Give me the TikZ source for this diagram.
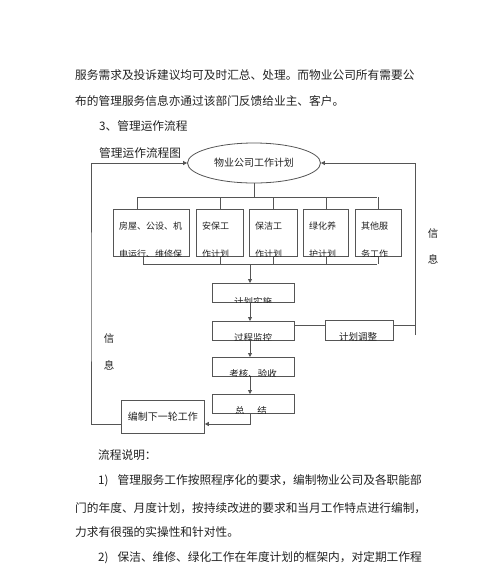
\documentclass[tikz,border=0pt]{standalone}
\usepackage{fontspec}
\setmainfont{Noto Sans CJK SC}
\usetikzlibrary{arrows.meta,shapes.geometric}
\definecolor{linec}{HTML}{555555}
\definecolor{txt}{HTML}{222222}
\begin{document}
\begin{tikzpicture}[x=1pt,y=-1pt,
  ln/.style={draw=linec, line width=0.8pt},
  arr/.style={ln, -{Triangle[length=4pt,width=4pt]}},
  bx/.style={draw=linec, line width=0.8pt, rectangle, inner sep=0pt, anchor=north west},
  body/.style={anchor=west, inner sep=0pt, font=\fontsize{11.7}{14}\selectfont, text=txt},
  small/.style={anchor=west, inner sep=0pt, font=\fontsize{9}{11}\selectfont, text=txt},
  mid/.style={inner sep=0pt, font=\fontsize{9.5}{11}\selectfont, text=txt},
]
\useasboundingbox[fill=white] (0,0) rectangle (500,566);

% body text
\node[body] (p1) at (75,75) {服务需求及投诉建议均可及时汇总、处理。而物业公司所有需要公};
\node[body] (p2) at (75,101) {布的管理服务信息亦通过该部门反馈给业主、客户。};
\node[body] (p3) at (99,126) {3、管理运作流程};
\node[body] (p4) at (99,153) {管理运作流程图};
\node[body] (q1) at (98,455) {流程说明：};
\node[body] (q2) at (98,481) {1)\hspace{9pt}管理服务工作按照程序化的要求，编制物业公司及各职能部};
\node[body] (q3) at (75,508) {门的年度、月度计划，按持续改进的要求和当月工作特点进行编制，};
\node[body] (q4) at (75,532) {力求有很强的实操性和针对性。};
\node[body] (q5) at (98,558) {2)\hspace{9pt}保洁、维修、绿化工作在年度计划的框架内，对定期工作程};

% ellipse
\node[draw=linec, line width=0.8pt, ellipse, minimum width=133pt, minimum height=40pt, inner sep=0pt,
      font=\fontsize{10}{12}\selectfont, text=txt] (el) at (254,163) {物业公司工作计划};

% top boxes
\node[bx, minimum width=76pt, minimum height=47pt] (b1) at (113,209) {};
\node[bx, minimum width=47pt, minimum height=47pt] (b2) at (196,209) {};
\node[bx, minimum width=48pt, minimum height=47pt] (b3) at (249,209) {};
\node[bx, minimum width=45pt, minimum height=47pt] (b4) at (303,209) {};
\node[bx, minimum width=46pt, minimum height=47pt] (b5) at (355,209) {};

\begin{scope}
\clip (b1.north west) rectangle (b1.south east);
\node[small] (b1a) at (119,226) {房屋、公设、机};
\node[small] (b1b) at (119,254.5) {电运行、维修保};
\end{scope}
\begin{scope}
\clip (b2.north west) rectangle (b2.south east);
\node[small] (b2a) at (202,226) {安保工};
\node[small] (b2b) at (202,254.5) {作计划};
\end{scope}
\begin{scope}
\clip (b3.north west) rectangle (b3.south east);
\node[small] (b3a) at (255,226) {保洁工};
\node[small] (b3b) at (255,254.5) {作计划};
\end{scope}
\begin{scope}
\clip (b4.north west) rectangle (b4.south east);
\node[small] (b4a) at (309,226) {绿化养};
\node[small] (b4b) at (309,254.5) {护计划};
\end{scope}
\begin{scope}
\clip (b5.north west) rectangle (b5.south east);
\node[small] (b5a) at (361,226) {其他服};
\node[small] (b5b) at (361,254.5) {务工作};
\end{scope}

% center chain
\node[bx, minimum width=82pt, minimum height=19pt] (c1) at (212,283) {};
\node[bx, minimum width=82pt, minimum height=19pt] (c2) at (212,321) {};
\node[bx, minimum width=82pt, minimum height=19pt] (c3) at (212,357) {};
\node[bx, minimum width=82pt, minimum height=19pt] (c4) at (212,394) {};
\node[bx, minimum width=68pt, minimum height=20pt] (c5) at (325,320) {};
\node[bx, minimum width=83pt, minimum height=33pt, font=\fontsize{10}{12}\selectfont, text=txt]
      (nx) at (121,400) {编制下一轮工作};

\begin{scope}
\clip (c1.north west) rectangle (c1.south east);
\node[mid] (c1t) at (253,301.5) {计划实施};
\end{scope}
\begin{scope}
\clip (c2.north west) rectangle (c2.south east);
\node[mid] (c2t) at (253,338) {过程监控};
\end{scope}
\begin{scope}
\clip (c3.north west) rectangle (c3.south east);
\node[mid] (c3t) at (253,374) {考核、验收};
\end{scope}
\begin{scope}
\clip (c4.north west) rectangle (c4.south east);
\node[mid] (c4t) at (251,411) {总\hspace{13pt}结};
\end{scope}
\begin{scope}
\clip (c5.north west) rectangle (c5.south east);
\node[mid] (c5t) at (358,337) {计划调整};
\end{scope}

% labels 信 息
\node[mid, anchor=center, font=\fontsize{10.5}{12}\selectfont] (r1) at (433,234) {信};
\node[mid, anchor=center, font=\fontsize{10.5}{12}\selectfont] (r2) at (433,259) {息};
\node[mid, anchor=center, font=\fontsize{10.5}{12}\selectfont] (l1) at (109,339) {信};
\node[mid, anchor=center, font=\fontsize{10.5}{12}\selectfont] (l2) at (109,365) {息};

% connectors: top bus
\coordinate (t1) at (137,197);
\coordinate (t5) at (377,197);
\draw[ln] (el.south) -- (el.south |- t1);
\draw[ln] (t1) -- (t5);
\draw[ln] (t1) -- (t1 |- b1.north);
\draw[ln] (b2.north) -- (b2.north |- t1);
\draw[ln] (b3.north) -- (b3.north |- t1);
\draw[ln] (b4.north) -- (b4.north |- t1);
\draw[ln] (b5.north) -- (b5.north |- t1);

% bottom bus
\coordinate (u1) at (143,264);
\coordinate (u5) at (377,264);
\coordinate (m) at (250,264);
\draw[ln] (u1) -- (u5);
\draw[ln] (u1 |- b1.south) -- (u1);
\draw[ln] (b2.south) -- (b2.south |- u1);
\draw[ln] (b3.south) -- (b3.south |- u1);
\draw[ln] (b4.south) -- (b4.south |- u1);
\draw[ln] (b5.south) -- (b5.south |- u1);

% chain arrows
\draw[arr] (m) -- (m |- c1.north);
\draw[arr] (m |- c1.south) -- (m |- c2.north);
\draw[arr] (m |- c2.south) -- (m |- c3.north);
\draw[arr] (m |- c3.south) -- (m |- c4.north);
\coordinate (r) at (250,424);
\draw[arr] (m |- c4.south) -- (r) -- (nx.east |- r);

% left feedback loop
\coordinate (lx) at (91,300);
\draw[arr] (nx.west |- r) -| (lx) |- (el.west);

% right feedback loop
\coordinate (k) at (300,325);
\coordinate (ry) at (415,335);
\draw[ln] (c2.east |- k) -- (c5.west |- k);
\draw[ln] (c5.east |- k) -- (ry |- k);
\draw[arr] (ry) |- (el.east);
\end{tikzpicture}
\end{document}
